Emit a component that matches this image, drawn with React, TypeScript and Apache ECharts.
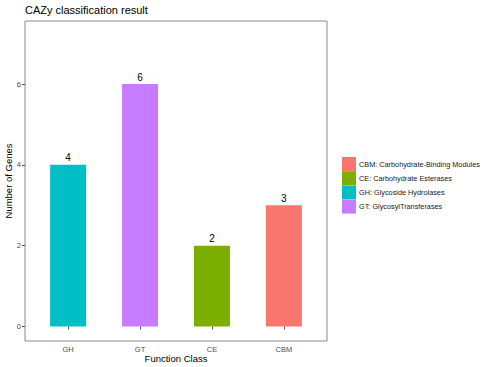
import React, { useEffect, useRef } from "react";
import * as echarts from "echarts";

const categories = ["GH", "GT", "CE", "CBM"];
const geneCounts = [4, 6, 2, 3];
const classLabels = [
  "GH: Glycoside Hydrolases",
  "GT: GlycosylTransferases",
  "CE: Carbohydrate Esterases",
  "CBM: Carbohydrate-Binding Modules",
];
const classColors = ["#00BFC4", "#C77CFF", "#7CAE00", "#F8766D"];
const legendOrder = [3, 2, 0, 1];
const yTicks = [0, 2, 4, 6];
const xPositions = [1, 2, 3, 4];

const FONT = "'Liberation Sans', Arial, Helvetica, sans-serif";

export default function App() {
  const ref = useRef<HTMLDivElement>(null);
  useEffect(() => {
    if (!ref.current) return;
    const chart = echarts.init(ref.current, undefined, { renderer: "svg" });
    const series = legendOrder.map((i) => ({
      type: "bar",
      name: classLabels[i],
      data: [[xPositions[i], geneCounts[i]]],
      barWidth: 36,
      barGap: "-100%",
      itemStyle: { color: classColors[i] },
      label: {
        show: true,
        position: "top",
        distance: 2,
        color: "#000",
        fontSize: 10,
        fontFamily: FONT,
      },
    }));
    chart.setOption({
      animation: false,
      backgroundColor: "#fff",
      textStyle: { fontFamily: FONT },
      title: {
        text: "CAZy classification result",
        left: 25,
        top: 4,
        padding: 0,
        textStyle: { fontSize: 11, fontWeight: "normal", color: "#000", fontFamily: FONT },
      },
      grid: {
        left: 25,
        top: 21,
        width: 302,
        height: 320,
        containLabel: false,
        outerBoundsMode: "none",
        show: true,
        borderColor: "#8a8a8a",
        borderWidth: 1,
        backgroundColor: "#fff",
      },
      legend: {
        orient: "vertical",
        left: 342,
        top: 157,
        padding: 0,
        itemWidth: 14,
        itemHeight: 14,
        itemGap: 0.2,
        icon: "rect",
        data: legendOrder.map((i) => classLabels[i]),
        textStyle: {
          fontSize: 7.3,
          color: "#1a1a1a",
          fontFamily: FONT,
          padding: [0, 0, 0, -2],
        },
      },
      xAxis: {
        type: "value",
        min: 0.4,
        max: 4.6,
        name: "Function Class",
        nameLocation: "middle",
        nameGap: 12,
        nameMoveOverlap: false,
        nameTextStyle: { fontSize: 9.5, color: "#000", fontFamily: FONT, verticalAlign: "top" },
        axisLine: { show: false },
        splitLine: { show: false },
        axisTick: {
          show: true,
          length: 3,
          customValues: xPositions,
          lineStyle: { color: "#555" },
        },
        axisLabel: {
          customValues: xPositions,
          margin: 4,
          fontSize: 7.5,
          color: "#4d4d4d",
          fontFamily: FONT,
          formatter: (v: number) => categories[Math.round(v) - 1] ?? "",
        },
      },
      yAxis: {
        type: "value",
        min: -0.36,
        max: 7.56,
        name: "Number of Genes",
        nameLocation: "middle",
        nameGap: 12,
        nameMoveOverlap: false,
        nameTextStyle: { fontSize: 9.5, color: "#000", fontFamily: FONT },
        axisLine: { show: false },
        splitLine: { show: false },
        axisTick: {
          show: true,
          length: 3,
          customValues: yTicks,
          lineStyle: { color: "#555" },
        },
        axisLabel: {
          customValues: yTicks,
          margin: 4,
          fontSize: 7.5,
          color: "#4d4d4d",
          fontFamily: FONT,
        },
      },
      series,
    });
    return () => chart.dispose();
  }, []);
  return (
    <div
      ref={ref}
      style={{ position: "fixed", left: 0, top: 0, width: 490, height: 367 }}
    />
  );
}
